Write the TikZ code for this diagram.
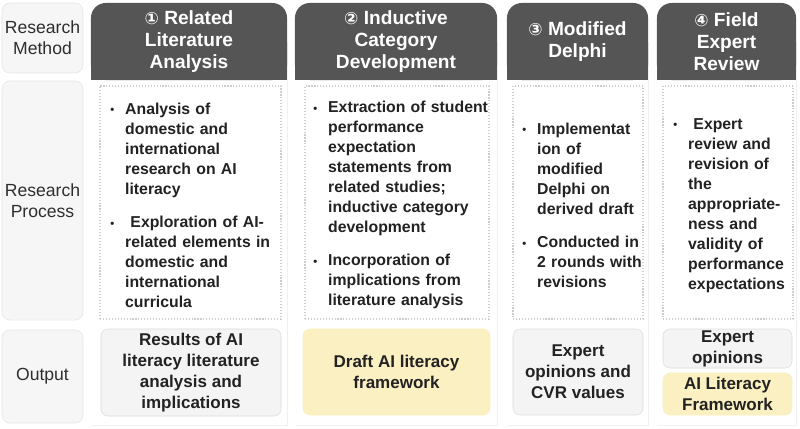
\documentclass[tikz,border=0pt]{standalone}
\usepackage{fontspec}
\setmainfont{Liberation Sans}
\newfontfamily\circfont{DejaVu Sans}
\usetikzlibrary{backgrounds,shadows}

\definecolor{hdrgray}{HTML}{555555}
\definecolor{lblfill}{HTML}{F6F6F6}
\definecolor{lbldraw}{HTML}{E4E4E4}
\definecolor{outfill}{HTML}{F4F4F4}
\definecolor{outdraw}{HTML}{DDDDDD}
\definecolor{draftyel}{HTML}{FBF0C2}
\definecolor{dotline}{HTML}{CDCDCD}
\definecolor{bodytext}{HTML}{222222}
\definecolor{lbltext}{HTML}{2E2E2E}

\newcommand\pxu{0.7113pt}
\newlength\bind
\setlength\bind{10.6pt}
\newcommand\cnum[1]{{\circfont\fontsize{12pt}{12pt}\selectfont #1}}
\newcommand\bul{\raisebox{0.3pt}{\footnotesize\textbullet}}
\newcommand\bitem[1]{\par\hangindent=\bind\hangafter=1\noindent\makebox[\bind][l]{\bul}#1\par}

\tikzset{
  lbl/.style={draw=lbldraw, fill=lblfill, rounded corners=5.7pt, align=center,
    text=lbltext, minimum width=81*\pxu, inner sep=0pt,
    font=\fontsize{12.5pt}{14.9pt}\selectfont},
  panel/.style={fill=white, minimum height=384*\pxu, inner sep=0pt,
    drop shadow={opacity=0.12, shadow xshift=0.8pt, shadow yshift=-0.8pt}},
  hdr/.style={fill=hdrgray, rounded corners=10.5pt, text=white, align=center,
    minimum height=77*\pxu, inner sep=0pt,
    font=\fontsize{13.6pt}{15.5pt}\selectfont\bfseries},
  dotbox/.style={draw=dotline, line width=0.8pt, dash pattern=on 0.8pt off 1.3pt,
    minimum height=233*\pxu, inner sep=0pt},
  bodytxt/.style={anchor=west, text width=200*\pxu, inner sep=0pt, align=left,
    text=bodytext, font=\fontsize{11.24pt}{14.23pt}\selectfont\bfseries},
  outbox/.style={draw=outdraw, fill=outfill, rounded corners=5pt, align=center,
    text=bodytext, inner xsep=0pt, inner ysep=1pt,
    font=\fontsize{12.1pt}{14.9pt}\selectfont\bfseries},
  outyel/.style={outbox, draw=draftyel, fill=draftyel}
}

\begin{document}
\begin{tikzpicture}[x=0.025cm, y=-0.025cm]
  \useasboundingbox (0,0) rectangle (800,428);

  \node[lbl, minimum height=70*\pxu] (meth) at (42.5,38) {Research\\Method};
  \node[lbl, minimum height=239*\pxu] (proc) at (42.5,200.5) {Research\\Process};
  \node[lbl, minimum height=93*\pxu] (outp) at (42.5,376.5) {Output};

  \node[hdr, minimum width=196*\pxu] (h1) at (189,41.5) {\cnum{①} Related\\Literature\\Analysis};
  \node[hdr, minimum width=202*\pxu] (h2) at (396,41.5) {\cnum{②} Inductive\\Category\\Development};
  \node[hdr, minimum width=141*\pxu] (h3) at (577.5,41.5) {\cnum{③} Modified\\Delphi};
  \node[hdr, minimum width=139*\pxu] (h4) at (726.5,41.5) {\cnum{④} Field\\Expert\\Review};

  \node[dotbox, minimum width=181*\pxu] (d1) at (190.5,202.5) {};
  \node[dotbox, minimum width=184*\pxu] (d2) at (397,202.5) {};
  \node[dotbox, minimum width=130*\pxu] (d3) at (578,202.5) {};
  \node[dotbox, minimum width=130*\pxu] (d4) at (728,202.5) {};

  \node[bodytxt] (b1) at (110,201) {%
    \bitem{Analysis of\newline domestic and\newline international\newline research on AI\newline literacy}\vspace{9.25pt}%
    \bitem{\ Exploration of AI-\newline related elements in\newline domestic and\newline international\newline curricula}};
  \node[bodytxt] (b2) at (313,201) {%
    \bitem{Extraction of student\newline performance\newline expectation\newline statements from\newline related studies;\newline inductive category\newline development}\vspace{9.25pt}%
    \bitem{Incorporation of\newline implications from\newline literature analysis}};
  \node[bodytxt] (b3) at (522,201) {%
    \bitem{Implementat\newline ion of\newline modified\newline Delphi on\newline derived draft}\vspace{9.25pt}%
    \bitem{Conducted in\newline 2 rounds with\newline revisions}};
  \node[bodytxt] (b4) at (673,201) {%
    \bitem{\ Expert\newline review and\newline revision of\newline the\newline appropriate-\newline ness and\newline validity of\newline performance\newline expectations}};

  \node[outbox, minimum width=180*\pxu, minimum height=87*\pxu] (o1) at (191,372.5) {Results of AI\\literacy literature\\analysis and\\implications};
  \node[outyel, minimum width=187*\pxu, minimum height=86*\pxu] (o2) at (396.5,372) {Draft AI literacy\\framework};
  \node[outbox, minimum width=130*\pxu, minimum height=86*\pxu] (o3) at (578,372) {Expert\\opinions and\\CVR values};
  \node[outbox, minimum width=129*\pxu, minimum height=39*\pxu, inner ysep=0pt] (o4a) at (727.5,348.5) {Expert\\opinions};
  \node[outyel, minimum width=129*\pxu, minimum height=42*\pxu, inner ysep=0pt] (o4b) at (727.5,394) {AI Literacy\\Framework};

  \begin{scope}[on background layer]
    \node[panel, minimum width=196*\pxu] (p1) at (189,233) {};
    \node[panel, minimum width=202*\pxu] (p2) at (396,233) {};
    \node[panel, minimum width=141*\pxu] (p3) at (577.5,233) {};
    \node[panel, minimum width=139*\pxu] (p4) at (726.5,233) {};
    \fill[hdrgray] (h1.west) rectangle (h1.south east);
    \fill[hdrgray] (h2.west) rectangle (h2.south east);
    \fill[hdrgray] (h3.west) rectangle (h3.south east);
    \fill[hdrgray] (h4.west) rectangle (h4.south east);
  \end{scope}
\end{tikzpicture}
\end{document}
